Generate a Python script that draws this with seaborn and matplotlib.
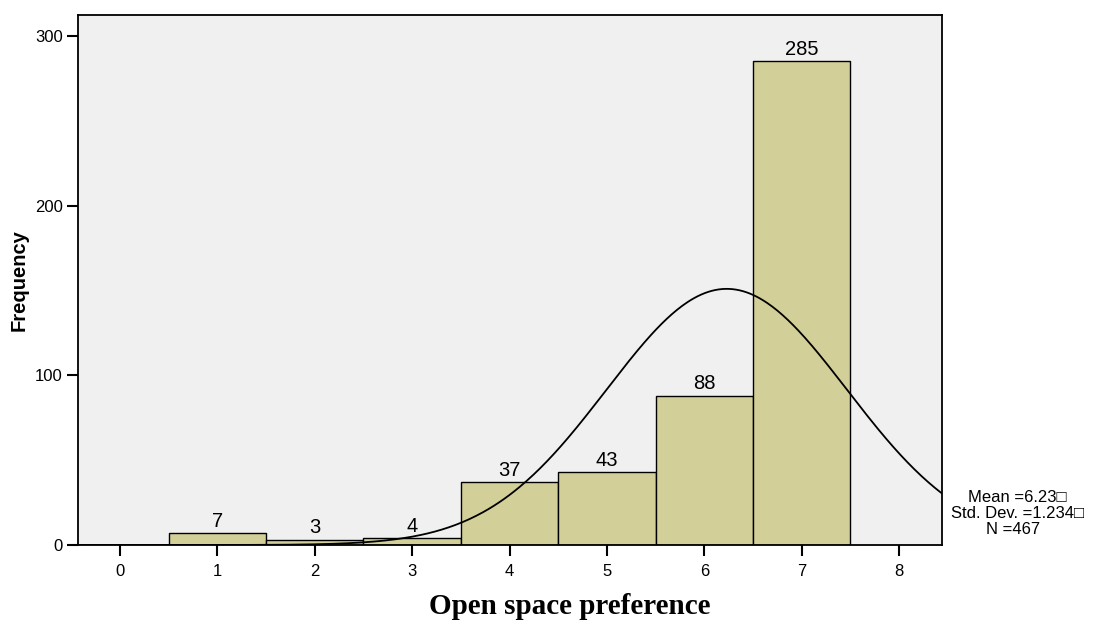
import numpy as np
import matplotlib
matplotlib.use("Agg")
import matplotlib.pyplot as plt
import seaborn as sns

# Data
categories = [1, 2, 3, 4, 5, 6, 7]
counts = [7, 3, 4, 37, 43, 88, 285]
x_ticks = [0, 1, 2, 3, 4, 5, 6, 7, 8]
y_ticks = [0, 100, 200, 300]
mean_val = 6.23
sd_val = 1.234
n_val = 467

sns.set_theme(style="white")
plt.rcParams['font.family'] = ['Liberation Sans', 'DejaVu Sans']
plt.rcParams['text.color'] = 'black'
plt.rcParams['axes.labelcolor'] = 'black'
plt.rcParams['xtick.color'] = 'black'
plt.rcParams['ytick.color'] = 'black'

fig = plt.figure(figsize=(10.94, 6.27), dpi=100)
ax = fig.add_axes([78/1094, 1-545/627, (942-78)/1094, (545-15)/627])
ax.set_facecolor("#F0F0F0")

sns.histplot(x=categories, weights=counts, discrete=True, ax=ax,
             color="#D3CF98", edgecolor="black", linewidth=1.0, alpha=1.0)

for c, v in zip(categories, counts):
    ax.text(c, v + 1.5, str(v), ha="center", va="bottom", fontsize=14.5, color="black")

xmin, xmax = -0.43, 8.44
xs = np.linspace(xmin, xmax, 500)
ys = n_val * 1.0 / (sd_val * np.sqrt(2*np.pi)) * np.exp(-0.5*((xs-mean_val)/sd_val)**2)
sns.lineplot(x=xs, y=ys, ax=ax, color="black", linewidth=1.3)

ax.set_xlim(xmin, xmax)
ax.set_ylim(0, 312.4)
ax.set_xticks(x_ticks)
ax.set_yticks(y_ticks)
ax.tick_params(axis="both", direction="out", length=8, width=1.5, color="black",
               labelsize=12, bottom=True, left=True, pad=3, labelcolor="black")
ax.tick_params(axis="x", pad=6)
for s in ax.spines.values():
    s.set_visible(True)
    s.set_color("black")
    s.set_linewidth(1.3)

ax.set_xlabel("")
ax.set_ylabel("")
fig.text(19/1094, 1-280/627, "Frequency", rotation=90, ha="center", va="center",
         fontsize=14.5, fontweight="bold", color="black")
fig.text(570/1094, 1-606/627, "Open space preference", ha="center", va="center",
         fontsize=21, fontweight="bold", family=["Liberation Serif", "DejaVu Serif"],
         color="black")

fig.text(1017/1094, 1-497/627, "Mean =6.23\u25A1", ha="center", va="center", fontsize=12)
fig.text(1017/1094, 1-513/627, "Std. Dev. =1.234\u25A1", ha="center", va="center", fontsize=12)
fig.text(1013/1094, 1-529/627, "N =467", ha="center", va="center", fontsize=12)

fig.savefig("out.png", dpi=100, facecolor="white")
